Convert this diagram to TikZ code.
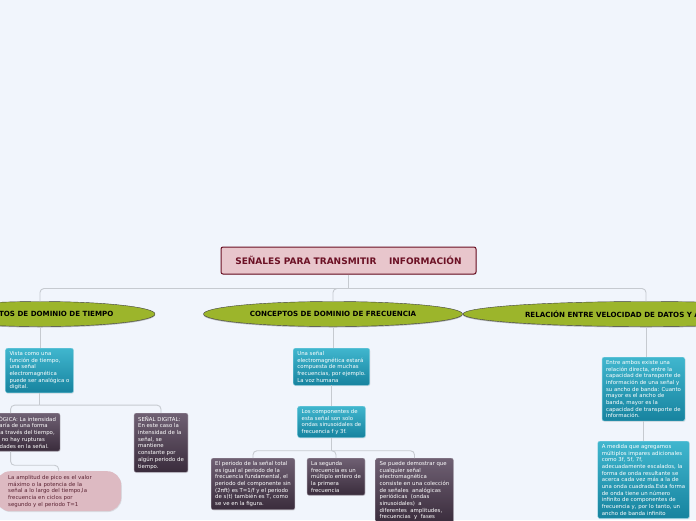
\documentclass[tikz,border=0pt]{standalone}
\usepackage{fontspec}
\setmainfont{DejaVu Sans}
\usetikzlibrary{positioning,shapes.geometric,shadows}
\definecolor{mapbg}{HTML}{F1F5FC}
\definecolor{rootfill}{HTML}{E8C6CC}
\definecolor{rootdraw}{HTML}{6B1024}
\definecolor{topicfill}{HTML}{9CB52B}
\definecolor{tealtop}{HTML}{40B6CE}
\definecolor{tealbot}{HTML}{17839F}
\definecolor{plumtop}{HTML}{6F6073}
\definecolor{plumbot}{HTML}{3A2C3C}
\definecolor{pinkfill}{HTML}{DDBAC2}
\definecolor{pinktext}{HTML}{5A2232}
\definecolor{linegray}{HTML}{C6CAD0}
\tikzset{
  root/.style={draw=rootdraw, line width=1pt, fill=rootfill, rounded corners=2pt,
               font=\fontsize{9}{10}\selectfont\bfseries, text=rootdraw,
               minimum width=255pt, minimum height=27pt,
               drop shadow={shadow xshift=0.6pt, shadow yshift=-0.8pt, opacity=0.25}},
  topic/.style={ellipse, draw=black!75, fill=topicfill, inner sep=0pt,
                minimum height=25pt, font=\fontsize{7.1}{8}\selectfont\bfseries,
                drop shadow={shadow xshift=0pt, shadow yshift=-1pt, opacity=0.55}},
  note/.style={rounded corners=2pt, align=left, text=white, inner xsep=4pt, inner ysep=3pt,
               font=\fontsize{5.4}{6.7}\selectfont,
               drop shadow={shadow xshift=0.6pt, shadow yshift=-0.8pt, opacity=0.2}},
  tealnote/.style={note, top color=tealtop, bottom color=tealbot, draw=tealtop!60!white},
  darknote/.style={note, top color=plumtop, bottom color=plumbot, draw=plumtop!70!white},
  pinknote/.style={note, fill=pinkfill, text=pinktext, rounded corners=14pt,
                   text width=101pt, inner xsep=12pt, inner ysep=4pt},
  conn/.style={draw=linegray, line width=0.9pt, rounded corners=4pt}
}
\begin{document}
\begin{tikzpicture}[x=1pt, y=-1pt]
  \useasboundingbox[fill=mapbg] (0,0) rectangle (696,520);

  % central topic
  \node[root] (root) at (348.5,260.5) {SEÑALES PARA TRANSMITIR\ \ \ \ INFORMACIÓN};

  % main branches
  \node[topic, minimum width=230pt] (tiempo) at (40,314) {CONCEPTOS DE DOMINIO DE TIEMPO};
  \node[topic, minimum width=259pt] (frec) at (333,314) {CONCEPTOS DE DOMINIO DE FRECUENCIA};
  \node[topic, minimum width=366pt] (banda) at (646,314) {RELACIÓN ENTRE VELOCIDAD DE DATOS Y ANCHO DE BANDA};

  % dominio de tiempo
  \node[tealnote, anchor=north] (vista) at (39.5,348) {Vista como una\\función de tiempo,\\una señal\\electromagnética\\puede ser analógica o\\digital.};
  \node[darknote, anchor=north west] (analog) at (-39,413) {SEÑAL ANALÓGICA: La intensidad\\de la señal varía de una forma\\suavemente a través del tiempo,\\es decir, que no hay rupturas\\o discontinuidades en la señal.};
  \node[darknote, anchor=north] (digital) at (161,413) {SEÑAL DIGITAL:\\En este caso la\\intensidad de la\\señal, se\\mantiene\\constante por\\algún periodo de\\tiempo.};
  \node[pinknote, anchor=north west] (pico) at (-4,471) {La amplitud de pico es el valor\\máximo o la potencia de la\\señal a lo largo del tiempo,la\\frecuencia en ciclos por\\segundo y el periodo T=1};

  % dominio de frecuencia
  \node[tealnote, anchor=north] (voz) at (331.5,348) {Una señal\\electromagnética estará\\compuesta de muchas\\frecuencias, por ejemplo.\\La voz humana};
  \node[tealnote, anchor=north] (compo) at (331.5,406) {Los componentes de\\esta señal son solo\\ondas sinusoidales de\\frecuencia f y 3f.};
  \node[darknote, anchor=north] (periodo) at (253,458) {El periodo de la señal total\\es igual al periodo de la\\frecuencia fundamental, el\\periodo del componente sin\\(2πft) es T=1/f y el periodo\\de s(t) también es T, como\\se ve en la figura.};
  \node[darknote, anchor=north] (segunda) at (336,458) {La segunda\\frecuencia es un\\múltiplo entero de\\la primera\\frecuencia};
  \node[darknote, anchor=north] (demostrar) at (414.5,458) {Se puede demostrar que\\cualquier señal\\electromagnética\\consiste en una colección\\de señales\ \ analógicas\\periódicas\ \ (ondas\\sinusoidales)\ \ a\\diferentes\ \ amplitudes,\\frecuencias\ \ y\ \ fases};

  % velocidad y ancho de banda
  \node[tealnote, anchor=north] (directa) at (643.5,357) {Entre ambos existe una\\relación directa, entre la\\capacidad de transporte de\\información de una señal y\\su ancho de banda: Cuanto\\mayor es el ancho de\\banda, mayor es la\\capacidad de transporte de\\información.};
  \node[tealnote, anchor=north] (impares) at (643.5,441) {A medida que agregamos\\múltiplos impares adicionales\\como 3f, 5f, 7f,\\adecuadamente escalados, la\\forma de onda resultante se\\acerca cada vez más a la de\\una onda cuadrada.Esta forma\\de onda tiene un número\\infinito de componentes de\\frecuencia y, por lo tanto, un\\ancho de banda infinito};

  % connectors
  \draw[conn] (root.south) -- ++(0,14) coordinate (hub);
  \draw[conn] (hub) -| (tiempo.north);
  \draw[conn] (hub) -| (frec.north);
  \draw[conn] (hub) -| (banda.north);

  \draw[conn] (tiempo.south) -- (tiempo.south |- vista.north);
  \draw[conn] (vista.south) -- ++(0,12) coordinate (thub);
  \draw[conn] (thub) -| (analog.north);
  \draw[conn] (thub) -| (digital.north);
  \draw[conn] (analog.south) -- ++(0,14) -| (pico.north);

  \draw[conn] (frec.south) -- (frec.south |- voz.north);
  \draw[conn] (voz.south) -- (compo.north);
  \draw[conn] (compo.south) -- ++(0,13) coordinate (fhub);
  \draw[conn] (fhub) -| (periodo.north);
  \draw[conn] (fhub) -| (segunda.north);
  \draw[conn] (fhub) -| (demostrar.north);

  \draw[conn] (banda.south) -- (banda.south |- directa.north);
  \draw[conn] (directa.south) -- (impares.north);
\end{tikzpicture}
\end{document}
